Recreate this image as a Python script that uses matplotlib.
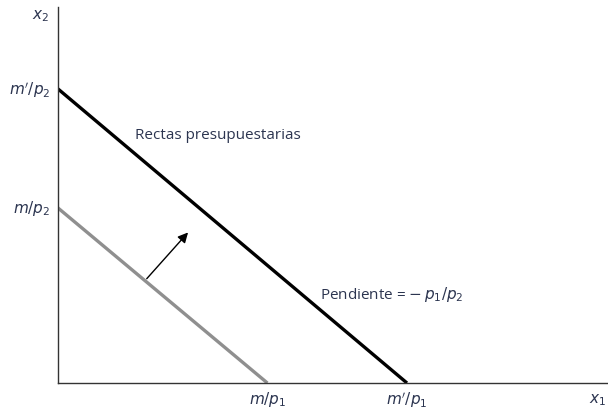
import numpy as np
import matplotlib.pyplot as plt

# intercepts of the two budget lines (x1, x2)
old_line = [6.0, 5.0]     # m/p1, m/p2
new_line = [10.0, 8.4]    # m'/p1, m'/p2
shift_arrow = [(2.49, 2.92), (3.78, 4.36)]

txt_color = '#2c3550'
plt.rcParams['font.family'] = ['Open Sans', 'DejaVu Sans']
plt.rcParams['mathtext.fontset'] = 'dejavusans'

fig = plt.figure(figsize=(6.08, 4.10), dpi=100)
ax = fig.add_axes([58 / 608, 26 / 410, 550 / 608, 376 / 410])
ax.set_xlim(0, 15.76)
ax.set_ylim(0, 10.74)

ax.plot([0, old_line[0]], [old_line[1], 0], color='#8f8f8f', lw=2.4, solid_capstyle='butt')
ax.plot([0, new_line[0]], [new_line[1], 0], color='black', lw=2.4, solid_capstyle='butt')

ax.annotate('', xy=shift_arrow[1], xytext=shift_arrow[0],
            arrowprops=dict(arrowstyle='-|>', color='black', lw=1.0, mutation_scale=15))

for s in ['top', 'right']:
    ax.spines[s].set_visible(False)
for s in ['left', 'bottom']:
    ax.spines[s].set_linewidth(1.0)
    ax.spines[s].set_color('#333333')
ax.set_xticks([])
ax.set_yticks([])

fs = 11
ax.text(-0.22, new_line[1], r"$m'/p_2$", ha='right', va='center', fontsize=fs, color=txt_color)
ax.text(-0.22, old_line[1], r"$m/p_2$", ha='right', va='center', fontsize=fs, color=txt_color)
ax.text(old_line[0], -0.45, r"$m/p_1$", ha='center', va='center', fontsize=fs, color=txt_color)
ax.text(new_line[0], -0.45, r"$m'/p_1$", ha='center', va='center', fontsize=fs, color=txt_color)
ax.text(15.45, -0.45, r"$x_1$", ha='center', va='center', fontsize=fs, color=txt_color)
ax.text(-0.5, 10.5, r"$x_2$", ha='center', va='center', fontsize=fs, color=txt_color)

ax.text(2.2, 7.1, 'Rectas presupuestarias', ha='left', va='center', fontsize=fs, color=txt_color)
ax.text(7.5, 2.55, r'Pendiente = $-\,p_1/p_2$', ha='left', va='center', fontsize=fs, color=txt_color)

for t in ax.texts:
    t.set_clip_on(False)

fig.savefig('out.png', dpi=100)
